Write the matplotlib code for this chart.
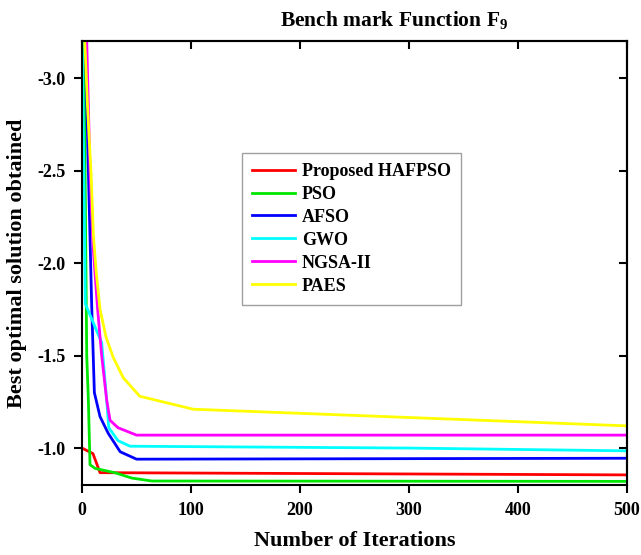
import matplotlib
matplotlib.use("Agg")
import matplotlib.pyplot as plt

plt.rcParams['font.family'] = ['Liberation Serif', 'DejaVu Serif']
plt.rcParams['font.weight'] = 'bold'
plt.rcParams['axes.unicode_minus'] = False
plt.rcParams['mathtext.fontset'] = 'custom'
plt.rcParams['mathtext.rm'] = 'Liberation Serif'
plt.rcParams['mathtext.bf'] = 'Liberation Serif:bold'

# ---- data ----
labels = ["Proposed HAFPSO", "PSO", "AFSO", "GWO", "NGSA-II", "PAES"]
colors = ["#ff0000", "#00e600", "#0000ff", "#00ffff", "#ff00ff", "#ffff00"]

hafpso_x = [0, 10, 16.5, 100, 500]
hafpso_y = [-1.0, -0.97, -0.867, -0.865, -0.855]

pso_x = [0, 2, 4.3, 5.8, 7.3, 12, 30, 45.6, 64, 500]
pso_y = [-3.5, -3.0, -1.5, -1.26, -0.91, -0.89, -0.867, -0.838, -0.822, -0.82]

afso_x = [0, 2.9, 5.8, 8.8, 11.3, 16.5, 24, 35, 50, 500]
afso_y = [-3.9, -3.2, -2.5, -1.78, -1.30, -1.17, -1.08, -0.98, -0.94, -0.945]

gwo_x = [0, 3, 18, 22.6, 24.5, 33, 44, 300, 500]
gwo_y = [-3.3, -1.78, -1.57, -1.26, -1.11, -1.04, -1.01, -1.0, -0.985]

ngsa_x = [0, 4.3, 7.3, 10, 14.3, 18, 22.6, 25.7, 33, 50, 500]
ngsa_y = [-3.7, -3.2, -2.5, -2.1, -1.75, -1.5, -1.26, -1.15, -1.11, -1.07, -1.07]

paes_x = [0, 5, 8.3, 10.4, 13, 16.5, 22, 28.6, 37.8, 53, 102, 500]
paes_y = [-3.55, -2.85, -2.48, -2.15, -1.95, -1.75, -1.6, -1.49, -1.38, -1.28, -1.21, -1.12]

series = [(hafpso_x, hafpso_y), (pso_x, pso_y), (afso_x, afso_y),
          (gwo_x, gwo_y), (ngsa_x, ngsa_y), (paes_x, paes_y)]

x_ticks = [0, 100, 200, 300, 400, 500]
y_ticks = [-3.0, -2.5, -2.0, -1.5, -1.0]

# ---- figure ----
fig = plt.figure(figsize=(6.41, 5.55), dpi=100)
ax = fig.add_axes([0.128, 0.126, 0.850, 0.800])

for (xs, ys), lab, col in zip(series, labels, colors):
    ax.plot(xs, ys, color=col, lw=2.0, label=lab)

ax.set_xlim(0, 500)
ax.set_ylim(-0.8, -3.2)
ax.set_xticks(x_ticks)
ax.set_yticks(y_ticks)
ax.set_yticklabels([f"{v:.1f}" for v in y_ticks])

for s in ax.spines.values():
    s.set_linewidth(1.5)

ax.tick_params(axis='both', which='major', direction='out', length=6, width=1.5,
               labelsize=13, pad=6)
sec_x = ax.secondary_xaxis('top')
sec_x.set_xticks(x_ticks)
sec_x.tick_params(direction='in', length=6, width=1.5, labeltop=False)
sec_y = ax.secondary_yaxis('right')
sec_y.set_yticks(y_ticks)
sec_y.tick_params(direction='in', length=6, width=1.5, labelright=False)
for s in list(sec_x.spines.values()) + list(sec_y.spines.values()):
    s.set_linewidth(1.5)

ax.set_xlabel("Number of Iterations", fontsize=16, fontweight='bold', labelpad=9)
ax.set_ylabel("Best optimal solution obtained", fontsize=16, fontweight='bold', labelpad=7)
fig.text(0.615, 0.962, r"Bench mark Function F$_\mathbf{9}$", fontsize=15.5,
         fontweight='bold', ha='center', va='center')

leg = ax.legend(loc='upper left', bbox_to_anchor=(0.294, 0.748), borderaxespad=0,
                fontsize=13, handlelength=2.4, handletextpad=0.35, labelspacing=0.33,
                fancybox=False, frameon=True, borderpad=0.55)
leg.get_frame().set_edgecolor('#888888')
leg.get_frame().set_linewidth(1.0)

fig.savefig("out.png", dpi=100)
